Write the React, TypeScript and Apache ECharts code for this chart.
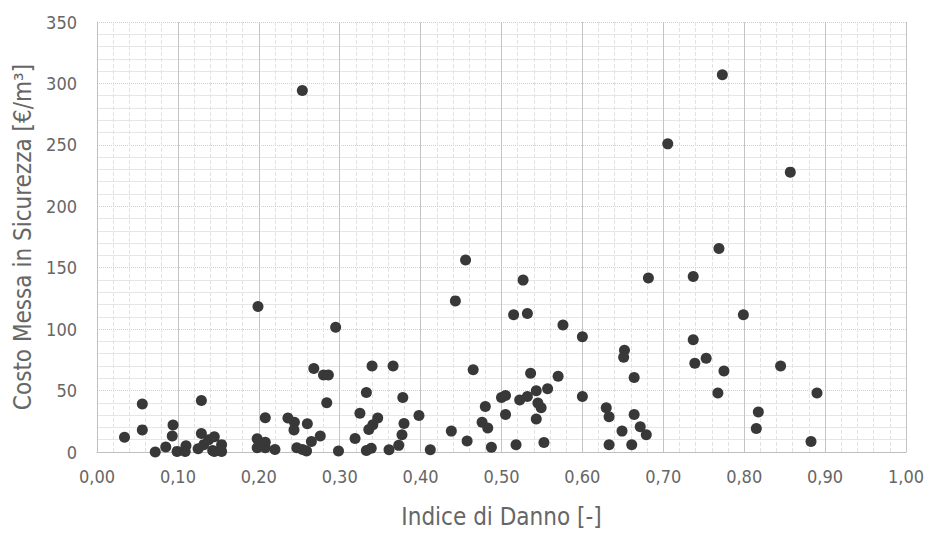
import React, { useEffect, useRef } from "react";
import * as echarts from "echarts";

const indiceDanno: number[] = [
  0.034, 0.056, 0.056, 0.072, 0.085, 0.094, 0.093, 0.099, 0.110, 0.109,
  0.125, 0.129, 0.129, 0.132, 0.138, 0.145, 0.143, 0.145, 0.154, 0.154,
  0.199, 0.208, 0.198, 0.208, 0.198, 0.208, 0.220, 0.236, 0.244, 0.2435,
  0.247, 0.254, 0.259, 0.2538, 0.260, 0.265, 0.276, 0.268, 0.280, 0.286,
  0.284, 0.295, 0.2985, 0.319, 0.325, 0.333, 0.333, 0.339, 0.336, 0.341,
  0.347, 0.340, 0.361, 0.366, 0.373, 0.377, 0.3795, 0.378, 0.398, 0.412,
  0.443, 0.438, 0.4575, 0.465, 0.4556, 0.480, 0.476, 0.483, 0.4875, 0.500,
  0.505, 0.505, 0.515, 0.532, 0.518, 0.5225, 0.532, 0.5267, 0.536, 0.543,
  0.545, 0.549, 0.543, 0.5525, 0.557, 0.570, 0.576, 0.600, 0.600, 0.6295,
  0.633, 0.633, 0.649, 0.652, 0.651, 0.664, 0.664, 0.661, 0.6715, 0.679,
  0.6816, 0.7055, 0.737, 0.739, 0.737, 0.753, 0.775, 0.7675, 0.7688, 0.773,
  0.799, 0.845, 0.8175, 0.815, 0.8826, 0.890, 0.857,
];

const costoMessa: number[] = [
  12, 39, 18, 0, 4, 22, 13, 0.5, 5, 0.5,
  2.7, 42, 15, 6, 10, 12.5, 1.3, 0.5, 6, 0.5,
  118.5, 27.8, 10.8, 8, 3.5, 3.5, 2, 27.6, 24.3, 18,
  3.5, 2, 0.8, 294.3, 23, 8.6, 13, 68, 62.7, 62.7,
  40, 101.5, 0.8, 11, 31.6, 48.4, 1.3, 3, 18.4, 22.2,
  27.6, 70, 1.9, 70, 5.4, 14, 23.2, 44.3, 29.7, 1.9,
  123, 17, 8.9, 67, 156.3, 37, 24.3, 19.5, 3.8, 44.3,
  46, 30.5, 111.7, 112.8, 5.9, 42.4, 45.1, 139.9, 64.1, 49.8,
  39.8, 36, 26.8, 7.8, 51.4, 61.7, 103.3, 93.8, 45.1, 36,
  28.7, 5.9, 17, 82.8, 77.1, 60.6, 30.5, 5.9, 20.5, 14,
  141.7, 250.8, 91.4, 72.2, 142.8, 76.3, 66, 48.1, 165.6, 307,
  111.7, 70, 32.5, 19.2, 8.6, 48.1, 227.8,
];

const xTitle = "Indice di Danno [-]";
const yTitle = "Costo Messa in Sicurezza [€/m³]";

const FONT = "'DejaVu Sans Condensed', 'Liberation Sans Narrow', sans-serif";
const TEXT = "#666666";

export default function App() {
  const ref = useRef<HTMLDivElement>(null);
  useEffect(() => {
    if (!ref.current) return;
    const chart = echarts.init(ref.current, undefined, { renderer: "svg" });
    const data = indiceDanno.map((x, i) => [x, costoMessa[i]]);
    chart.setOption({
      animation: false,
      backgroundColor: "#ffffff",
      textStyle: { fontFamily: FONT },
      grid: { left: 97, right: 19, top: 22, bottom: 81, containLabel: false },
      xAxis: {
        type: "value",
        min: 0,
        max: 1,
        interval: 0.1,
        name: xTitle,
        nameLocation: "middle",
        nameGap: 53,
        nameTextStyle: { color: TEXT, fontSize: 24, fontFamily: FONT },
        axisLine: { show: true, lineStyle: { color: "#bfbfbf", width: 1 } },
        axisTick: { show: false },
        axisLabel: {
          color: TEXT,
          fontSize: 18,
          fontFamily: FONT,
          margin: 15,
          formatter: (v: number) => v.toFixed(2).replace(".", ","),
        },
        splitLine: { show: true, lineStyle: { color: "#c4c4c4", width: 1 } },
        minorTick: { show: false, splitNumber: 5 },
        minorSplitLine: { show: true, lineStyle: { color: "#e2e2e2", type: "dashed", width: 1 } },
      },
      yAxis: {
        type: "value",
        min: 0,
        max: 350,
        interval: 50,
        name: yTitle,
        nameLocation: "middle",
        nameGap: 60,
        nameTextStyle: { color: TEXT, fontSize: 24, fontFamily: FONT },
        axisLine: { show: true, lineStyle: { color: "#bfbfbf", width: 1 } },
        axisTick: { show: false },
        axisLabel: { color: TEXT, fontSize: 18, fontFamily: FONT, margin: 20 },
        splitLine: { show: true, lineStyle: { color: "#d0d0d0", type: "dotted", width: 1 } },
        minorTick: { show: false, splitNumber: 5 },
        minorSplitLine: { show: true, lineStyle: { color: "#e6e6e6", width: 1 } },
      },
      series: [
        {
          type: "scatter",
          data,
          symbol: "circle",
          symbolSize: 11,
          itemStyle: { color: "#383838", opacity: 1 },
        },
      ],
    });
    return () => chart.dispose();
  }, []);
  return (
    <div
      ref={ref}
      style={{ position: "fixed", left: 0, top: 0, width: 927, height: 534 }}
    />
  );
}
